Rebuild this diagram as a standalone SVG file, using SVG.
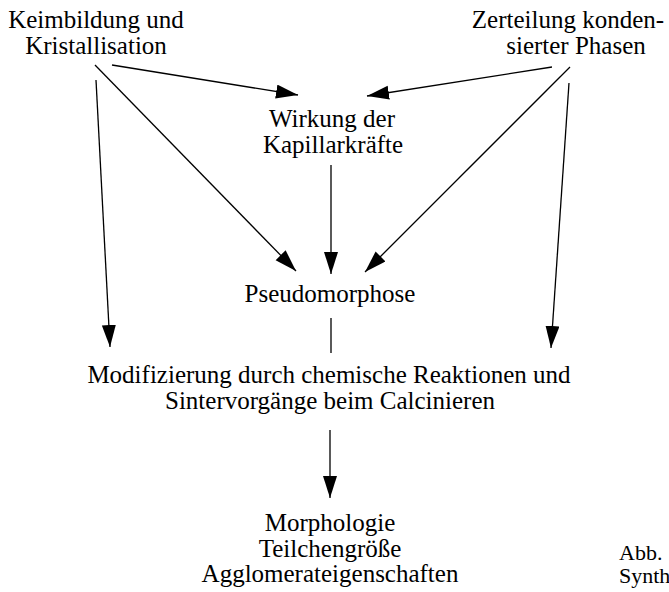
<svg xmlns="http://www.w3.org/2000/svg" width="669" height="592" viewBox="0 0 669 592">
<defs>
<marker id="ah" markerUnits="userSpaceOnUse" markerWidth="24" markerHeight="16" refX="22" refY="7" orient="auto">
<path d="M0,0 L22,7 L0,14 Z" fill="#000"/>
</marker>
<style>
text{font-family:"Liberation Serif","Times New Roman",serif;font-size:25px;fill:#000;text-anchor:middle}
.c{stroke:#000;stroke-width:1.3;fill:none}
.a{marker-end:url(#ah)}
.cap{font-size:22px;text-anchor:start}
</style>
</defs>
<rect width="669" height="592" fill="#fff"/>
<g id="keim"><text x="96" y="28">Keimbildung und</text><text x="96" y="54">Kristallisation</text></g>
<g id="zerteilung"><text x="568" y="28">Zerteilung konden-</text><text x="576" y="54">sierter Phasen</text></g>
<g id="wirkung"><text x="332" y="127">Wirkung der</text><text x="333" y="153">Kapillarkräfte</text></g>
<g id="pseudo"><text x="330" y="302">Pseudomorphose</text></g>
<g id="modif"><text x="329" y="383">Modifizierung durch chemische Reaktionen und</text><text x="330" y="409">Sintervorgänge beim Calcinieren</text></g>
<g id="result"><text x="330" y="531">Morphologie</text><text x="330" y="557">Teilchengröße</text><text x="330" y="582">Agglomerateigenschaften</text></g>
<g id="caption"><text class="cap" x="619" y="560">Abb.</text><text class="cap" x="619" y="583">Synth</text></g>
<g id="connectors">
<line class="c a" x1="112" y1="65" x2="298" y2="95"/>
<line class="c a" x1="95" y1="65" x2="296" y2="271"/>
<line class="c a" x1="96" y1="80" x2="110" y2="347"/>
<line class="c a" x1="552" y1="67" x2="367" y2="96"/>
<line class="c a" x1="570" y1="67" x2="365" y2="272"/>
<line class="c a" x1="569" y1="83" x2="551" y2="348"/>
<line class="c a" x1="331" y1="165" x2="331" y2="274"/>
<line class="c" x1="331" y1="318" x2="331" y2="353"/>
<line class="c a" x1="330" y1="430" x2="330" y2="498"/>
</g>
</svg>
